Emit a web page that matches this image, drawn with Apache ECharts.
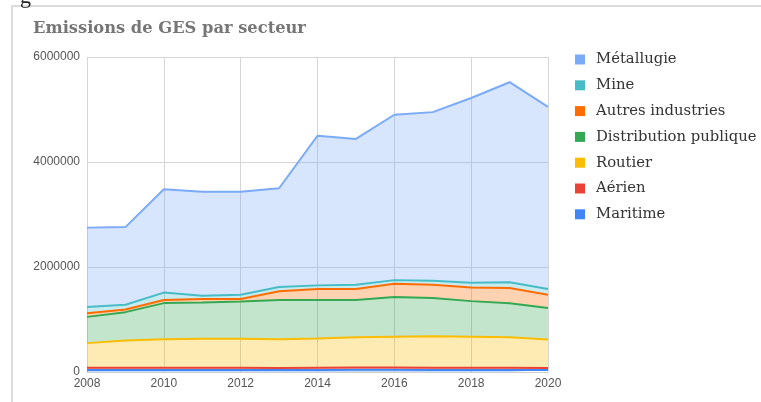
<!DOCTYPE html>
<html>
<head>
<meta charset="utf-8">
<script src="https://cdn.jsdelivr.net/npm/echarts@6/dist/echarts.min.js"></script>
<style>
  html, body { margin: 0; padding: 0; background: #fff; }
  #chart { width: 761px; height: 402px; }
</style>
</head>
<body>
<div id="chart"></div>
<script>
// Years on the horizontal axis
const years = ['2008','2009','2010','2011','2012','2013','2014','2015','2016','2017','2018','2019','2020'];

// Emissions per sector (stacked from the bottom: Maritime first)
const maritime      = [40000, 40000, 40000, 40000, 40000, 38000, 40000, 42000, 42000, 40000, 40000, 40000, 38000];
const aerien        = [40000, 40000, 42000, 42000, 42000, 40000, 42000, 42000, 42000, 42000, 40000, 40000, 38000];
const routier       = [470000, 520000, 540000, 550000, 550000, 547000, 558000, 576000, 586000, 598000, 590000, 580000, 544000];
const distribution  = [500000, 540000, 690000, 690000, 710000, 745000, 730000, 710000, 760000, 730000, 680000, 650000, 600000];
const autres        = [70000, 50000, 60000, 70000, 50000, 170000, 210000, 210000, 250000, 250000, 260000, 290000, 250000];
const mine          = [120000, 90000, 140000, 60000, 80000, 80000, 70000, 80000, 70000, 80000, 90000, 110000, 110000];
const metallurgie   = [1510000, 1480000, 1970000, 1980000, 1960000, 1880000, 2850000, 2780000, 3150000, 3210000, 3520000, 3810000, 3470000];

// Y axis ticks
const yTicks = [0, 2000000, 4000000, 6000000];

// Sector names, in stacking order, with their colours
const sectors = [
  { name: 'Maritime', data: maritime, color: '#4285F4' },
  { name: 'Aérien', data: aerien, color: '#EA4335' },
  { name: 'Routier', data: routier, color: '#FBBC04' },
  { name: 'Distribution publique', data: distribution, color: '#34A853' },
  { name: 'Autres industries', data: autres, color: '#FF6D01' },
  { name: 'Mine', data: mine, color: '#46BDC6' },
  { name: 'Métallugie', data: metallurgie, color: '#7BAAF7' }
];

const chart = echarts.init(document.getElementById('chart'), null, { renderer: 'canvas' });

const series = sectors.map(s => ({
  name: s.name,
  type: 'line',
  stack: 'total',
  data: s.data,
  symbol: 'none',
  smooth: false,
  color: s.color,
  lineStyle: { width: 2, color: s.color },
  areaStyle: { color: s.color, opacity: 0.3 },
  emphasis: { disabled: true }
}));

chart.setOption({
  animation: false,
  backgroundColor: '#ffffff',
  title: {
    text: 'Emissions de GES par secteur',
    left: 28,
    top: 16,
    textStyle: {
      fontFamily: 'DejaVu Serif',
      fontWeight: 'bold',
      fontSize: 16.3,
      color: '#767676'
    }
  },
  graphic: [
    {
      type: 'rect',
      shape: { x: 12, y: 6, width: 800, height: 420 },
      style: { fill: 'none', stroke: '#dcdcdc', lineWidth: 2 },
      silent: true
    },
    {
      type: 'text',
      left: 20,
      top: -14,
      style: { text: 'g', fontFamily: 'Liberation Serif', fontSize: 22, fill: '#222' },
      silent: true
    }
  ],
  legend: {
    orient: 'vertical',
    left: 570,
    top: 47,
    icon: 'rect',
    itemWidth: 10,
    itemHeight: 10,
    itemGap: 10.8,
    data: sectors.map(s => s.name).reverse(),
    textStyle: {
      fontFamily: 'DejaVu Serif',
      fontSize: 14.8,
      color: '#333',
      padding: [0, 0, 0, 6]
    },
    selectedMode: false
  },
  grid: { left: 87, right: 213, top: 57, bottom: 30, containLabel: false },
  xAxis: {
    type: 'category',
    data: years,
    boundaryGap: false,
    axisLine: { show: true, lineStyle: { color: '#cfcfcf' } },
    axisTick: { show: false },
    axisLabel: {
      interval: 1,
      margin: 6,
      fontFamily: 'Liberation Sans',
      fontSize: 12,
      color: '#555'
    },
    splitLine: { show: true, interval: 1, lineStyle: { color: '#d6d6d6' } }
  },
  yAxis: {
    type: 'value',
    min: yTicks[0],
    max: yTicks[yTicks.length - 1],
    interval: yTicks[1] - yTicks[0],
    axisLine: { show: false },
    axisTick: { show: false },
    axisLabel: {
      margin: 7,
      fontFamily: 'Liberation Sans',
      fontSize: 12,
      color: '#555',
      formatter: v => String(v)
    },
    splitLine: { show: true, lineStyle: { color: '#d6d6d6' } }
  },
  series: series
});
</script>
</body>
</html>
